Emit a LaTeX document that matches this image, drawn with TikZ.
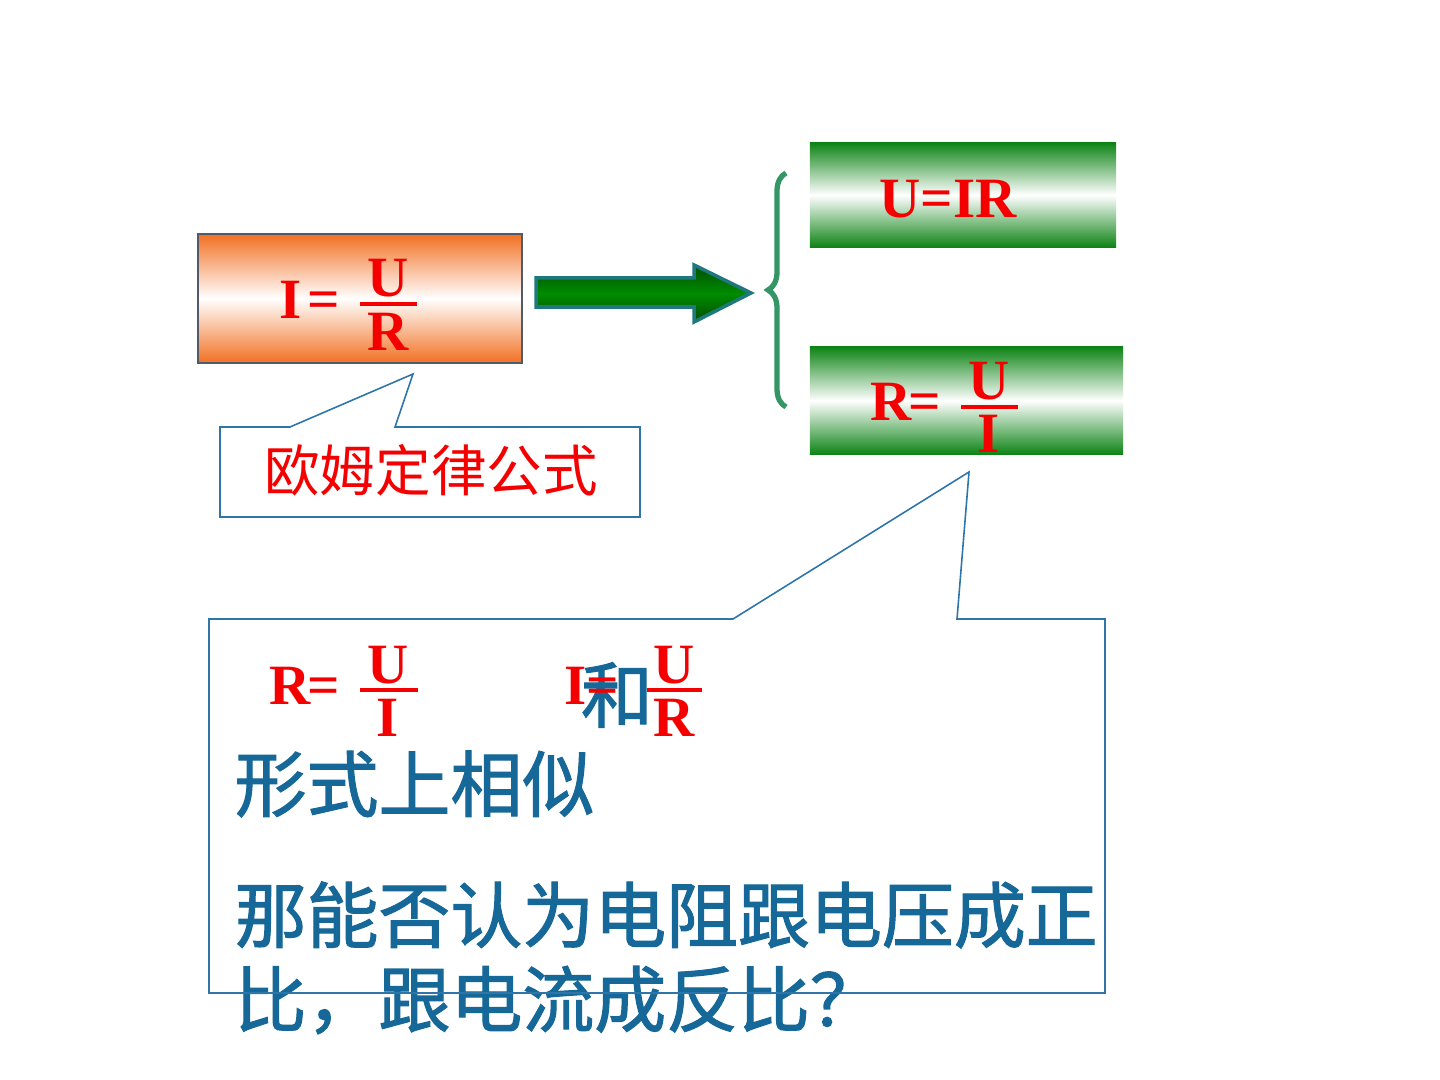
\documentclass[tikz,border=0pt]{standalone}
\usepackage{fontspec}
\setmainfont{Liberation Serif}
\newfontfamily\cjk{Noto Sans CJK SC}
\newfontfamily\cjkheavy[FakeBold=1.5]{Noto Sans CJK SC}
\usetikzlibrary{%
  decorations.pathreplacing,
  calc%
}
\definecolor{ohmorange}{RGB}{242,112,34}
\definecolor{ohmgreen}{RGB}{14,132,22}
\definecolor{ohmred}{RGB}{245,0,0}
\definecolor{ohmblue}{RGB}{22,104,152}
\definecolor{calloutblue}{RGB}{46,117,170}
\definecolor{bracegreen}{RGB}{52,150,100}
\definecolor{arrowedge}{RGB}{30,120,125}
\definecolor{boxedge}{RGB}{80,90,105}
\tikzset{
  formula/.style={
    text=ohmred,
    font=\fontsize{16.2}{16.2}\selectfont\bfseries,
    inner sep=0pt
  },
  fracbar/.style={
    ohmred,
    line width=1.1pt
  },
  orangebox/.style={
    draw=boxedge,
    line width=0.4pt,
    top color=ohmorange,
    bottom color=ohmorange,
    middle color=white,
    minimum width=3.24cm,
    minimum height=1.29cm,
    inner sep=0pt
  },
  greenbox/.style={
    top color=ohmgreen,
    bottom color=ohmgreen,
    middle color=white,
    inner sep=0pt
  },
  callout/.style={
    draw=calloutblue,
    line width=0.45pt
  },
  cjktext/.style={
    text=#1,
    inner sep=0pt
  },
  question/.style={
    cjktext=ohmblue,
    font=\cjkheavy\fontsize{20.45}{20.45}\selectfont
  }
}
\begin{document}
\begin{tikzpicture}[x=0.01cm,y=-0.01cm]
\useasboundingbox[fill=white] (0,0) rectangle (1440,1080);
% the law
\node[orangebox] (law) at (360,298.5) {};
\node[formula,anchor=base west] (lawlhs) at (279,319) {I\kern1.5pt=};
% the two rearranged forms
\node[greenbox,minimum width=3.06cm,minimum height=1.04cm] (voltage) at (963,195) {};
\node[greenbox,minimum width=3.13cm,minimum height=1.07cm] (resist) at (966.5,400.5) {};
\node[formula,anchor=base] (voltageeq) at (948,218) {U=IR};
\node[formula,anchor=base west] (resistlhs) at (870,421) {R\kern-1pt=};
% block arrow and brace
\coordinate (arrowtail) at (536,293);
\coordinate (arrowtip) at (751,293);
\path[draw=arrowedge,line width=1pt,top color=green!30!black,bottom color=green!30!black,middle color=green!55!black]
  ($(arrowtail)+(0,-15)$) -- ($(arrowtip)+(-57,-15)$) -- ($(arrowtip)+(-57,-28)$) -- (arrowtip)
  -- ($(arrowtip)+(-57,29)$) -- ($(arrowtip)+(-57,14)$) -- ($(arrowtail)+(0,14)$) -- cycle;
\coordinate (bracelow) at (786,407);
\coordinate (bracehigh) at (786,173);
\draw[bracegreen,line width=1.5pt,decorate,decoration={brace,amplitude=0.18cm}] (bracelow) -- (bracehigh);
% first callout
\node[cjktext=ohmred,font=\cjk\fontsize{15.8}{15.8}\selectfont] (lawname) at (431,470) {欧姆定律公式};
\coordinate (lawpoint) at (413,374);
\draw[callout] (220,427) -- (290,427) -- (lawpoint) -- (395,427) -- (640,427) -- (640,517) -- (220,517) -- cycle;
% second callout
\node[question] (andword) at (617,695) {和};
\node[formula,anchor=base west] (cmplhs) at (269,705) {R\kern-1pt=};
\node[formula,anchor=base west] (cmprhs) at (564,705) {I=};
\foreach \name/\cx/\ynum/\yden/\den/\barl/\barr/\ybar in {%
  law/388/297/351/R/360/417/304,
  resist/989/400/453/I/961/1018/407,
  cmpl/388/683/737/I/360/418/690,
  cmpr/674/683/737/R/647/702/690%
} {
  \node[formula,anchor=base] (\name num) at (\cx,\ynum) {U};
  \node[formula,anchor=base] (\name den) at (\cx,\yden) {\den};
  \draw[fracbar] (\barl,\ybar) -- (\barr,\ybar);
}
\node[question,anchor=west] (similar) at (234,784) {形式上相似};
\node[question,anchor=west] (questa) at (234,915) {那能否认为电阻跟电压成正};
\node[question,anchor=west] (questb) at (234,1000) {比，跟电流成反比？};
\coordinate (resistpoint) at (969,472);
\draw[callout] (209,619) -- (733,619) -- (resistpoint) -- (957,619) -- (1105,619) -- (1105,993) -- (209,993) -- cycle;
\end{tikzpicture}
\end{document}
